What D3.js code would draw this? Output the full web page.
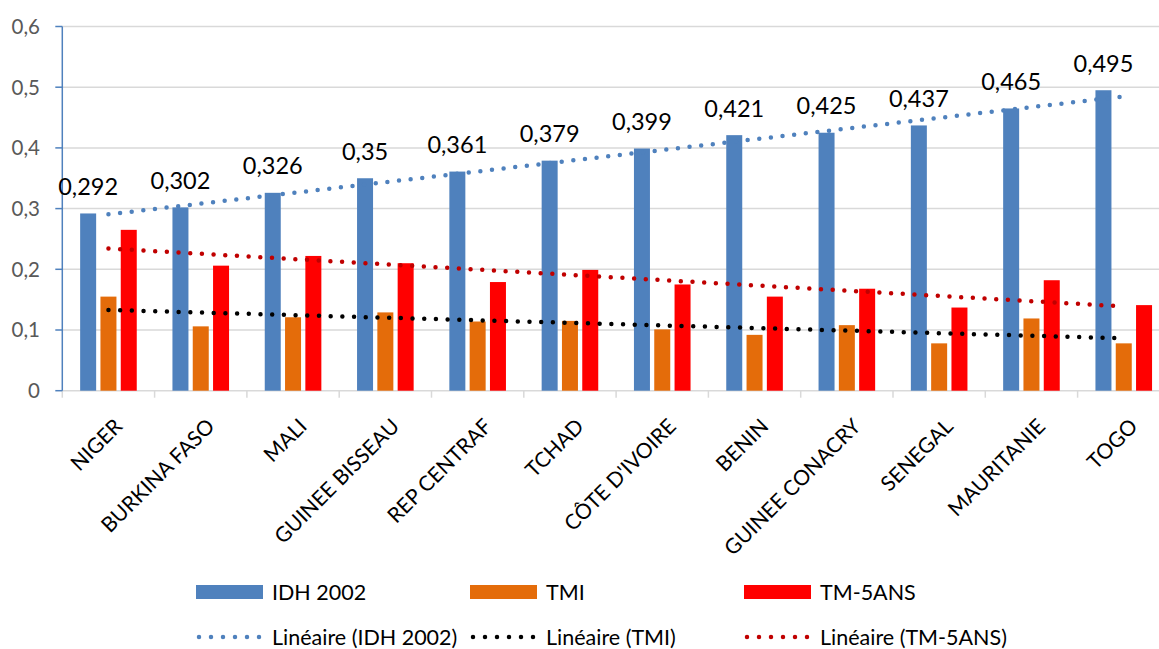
<!DOCTYPE html>
<html>
<head>
<meta charset="utf-8">
<script src="https://cdn.jsdelivr.net/npm/d3@7"></script>
<style>
  html, body { margin: 0; padding: 0; background: #fff; }
  svg { display: block; font-family: Lato, "Open Sans", sans-serif; }
</style>
</head>
<body>
<svg id="chart" width="1159" height="649"></svg>
<script>
const categories = ["NIGER", "BURKINA FASO", "MALI", "GUINEE BISSEAU", "REP CENTRAF", "TCHAD",
  "CÔTE D'IVOIRE", "BENIN", "GUINEE CONACRY", "SENEGAL", "MAURITANIE", "TOGO"];
const idh2002 = [0.292, 0.302, 0.326, 0.35, 0.361, 0.379, 0.399, 0.421, 0.425, 0.437, 0.465, 0.495];
const tmi     = [0.155, 0.106, 0.121, 0.129, 0.114, 0.115, 0.101, 0.092, 0.108, 0.078, 0.119, 0.078];
const tm5ans  = [0.265, 0.206, 0.222, 0.210, 0.179, 0.199, 0.175, 0.155, 0.168, 0.137, 0.182, 0.141];
const seriesNames = ["IDH 2002", "TMI", "TM-5ANS"];
const trendNames = ["Linéaire (IDH 2002)", "Linéaire (TMI)", "Linéaire (TM-5ANS)"];
const yTicks = [0, 0.1, 0.2, 0.3, 0.4, 0.5, 0.6];

const barColors = ["#4f81bd", "#e46c0a", "#ff0000"];
const trendColors = ["#4f81bd", "#000000", "#c00000"];
const seriesData = [idh2002, tmi, tm5ans];

(function () {
const svg = d3.select("#chart");
const plotLeft = 62.3, plotTop = 26.5, plotBottom = 390.7, step = 92.3;
const fmt = v => String(v).replace(".", ",");

const x = d3.scaleBand().domain(categories).range([plotLeft, plotLeft + step * categories.length]).padding(0);
const xs = d3.scaleBand().domain(seriesNames).range([-28.3, 28.3]).paddingInner(0.212).paddingOuter(0);
const y = d3.scaleLinear().domain([0, 0.6]).range([plotBottom, plotTop]);

// gridlines
svg.append("g").selectAll("line").data(yTicks.filter(t => t > 0)).join("line")
  .attr("x1", plotLeft).attr("x2", 1159)
  .attr("y1", d => y(d)).attr("y2", d => y(d))
  .attr("stroke", "#d9d9d9").attr("stroke-width", 1.5);

// x axis
const xAxis = svg.append("g").attr("transform", `translate(0,${plotBottom})`);
xAxis.append("line").attr("x1", plotLeft).attr("x2", 1159).attr("y1", 0).attr("y2", 0)
  .attr("stroke", "#d9d9d9").attr("stroke-width", 1.5);
xAxis.selectAll("line.tk").data(d3.range(categories.length + 1)).join("line").attr("class", "tk")
  .attr("x1", i => plotLeft + i * x.step()).attr("x2", i => plotLeft + i * x.step())
  .attr("y1", 0).attr("y2", 7).attr("stroke", "#d9d9d9").attr("stroke-width", 1.5);

// bars
const groups = svg.append("g").selectAll("g").data(categories).join("g")
  .attr("transform", d => `translate(${x(d) + x.bandwidth() / 2},0)`);
seriesNames.forEach((s, si) => {
  groups.append("rect")
    .attr("x", xs(s))
    .attr("width", xs.bandwidth())
    .attr("y", (d, i) => y(seriesData[si][i]))
    .attr("height", (d, i) => y(0) - y(seriesData[si][i]))
    .attr("fill", barColors[si]);
});

// y axis
const yAxis = svg.append("g");
yAxis.append("line").attr("x1", plotLeft).attr("x2", plotLeft).attr("y1", plotTop).attr("y2", plotBottom)
  .attr("stroke", "#4f81bd").attr("stroke-width", 1.5);
yAxis.selectAll("line.tk").data(yTicks).join("line").attr("class", "tk")
  .attr("x1", plotLeft - 7).attr("x2", plotLeft).attr("y1", d => y(d)).attr("y2", d => y(d))
  .attr("stroke", "#4f81bd").attr("stroke-width", 1.5);
yAxis.selectAll("text").data(yTicks).join("text")
  .attr("x", 40).attr("y", d => y(d)).attr("dy", "0.36em")
  .attr("text-anchor", "end").attr("fill", "#595959").attr("font-size", 20.5)
  .text(d => fmt(d));

// trend lines (least squares, as in Excel's linear trendline)
function linreg(vals) {
  const n = vals.length, xsr = d3.range(n);
  const mx = d3.mean(xsr), my = d3.mean(vals);
  const b = d3.sum(xsr, i => (i - mx) * (vals[i] - my)) / d3.sum(xsr, i => (i - mx) * (i - mx));
  return i => my + b * (i - mx);
}
const cx = i => x(categories[i]) + x.bandwidth() / 2;
seriesData.forEach((vals, si) => {
  const f = linreg(vals);
  const n = vals.length;
  svg.append("line")
    .attr("x1", cx(0)).attr("y1", y(f(0)))
    .attr("x2", cx(n - 1)).attr("y2", y(f(n - 1)))
    .attr("stroke", trendColors[si]).attr("stroke-width", 4.5)
    .attr("stroke-linecap", "round").attr("stroke-dasharray", "0 11.7");
});

// data labels on IDH 2002
svg.append("g").selectAll("text").data(categories).join("text")
  .attr("x", (d, i) => cx(i) + xs(seriesNames[0]) + xs.bandwidth() / 2)
  .attr("y", (d, i) => y(idh2002[i]) - 18.5)
  .attr("text-anchor", "middle").attr("font-size", 23.5).attr("fill", "#000")
  .text((d, i) => fmt(idh2002[i]));

// x labels
svg.append("g").selectAll("text").data(categories).join("text")
  .attr("transform", (d, i) => `translate(${cx(i) + 15.2},${427.7}) rotate(-45)`)
  .attr("text-anchor", "end").attr("font-size", 21).attr("fill", "#000")
  .text(d => d);

// legend
const legCols = [196, 470, 744];
const leg = svg.append("g");
seriesNames.forEach((s, si) => {
  leg.append("rect").attr("x", legCols[si]).attr("y", 585).attr("width", 67).attr("height", 14)
    .attr("fill", barColors[si]);
  leg.append("text").attr("x", legCols[si] + 76).attr("y", 592).attr("dy", "0.36em")
    .attr("font-size", 21.5).attr("fill", "#000").text(s);
  leg.append("line").attr("x1", legCols[si] + 3).attr("x2", legCols[si] + 64)
    .attr("y1", 637).attr("y2", 637)
    .attr("stroke", trendColors[si]).attr("stroke-width", 4.5)
    .attr("stroke-linecap", "round").attr("stroke-dasharray", "0 12");
  leg.append("text").attr("x", legCols[si] + 76).attr("y", 637).attr("dy", "0.36em")
    .attr("font-size", 21.5).attr("fill", "#000").text(trendNames[si]);
});
})();
</script>
</body>
</html>
